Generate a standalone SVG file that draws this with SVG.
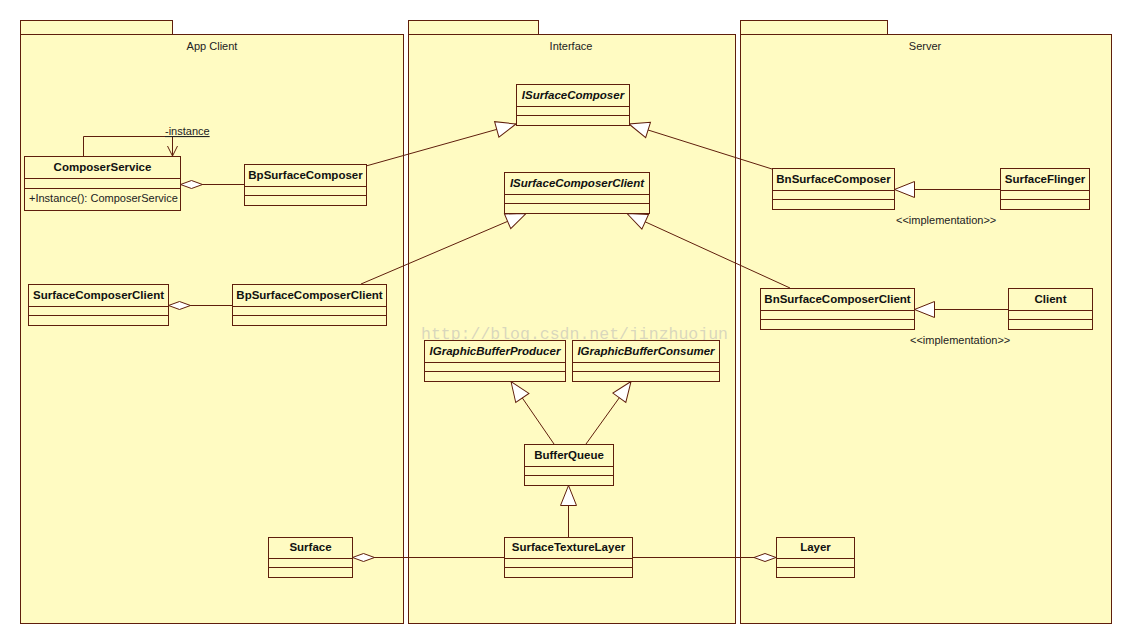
<svg xmlns="http://www.w3.org/2000/svg" width="1132" height="644" viewBox="0 0 1132 644">
<style>
.pkg{fill:#fffbc2;stroke:#5f1e0c;stroke-width:1}
.cls{fill:#fffbc2;stroke:#5f1e0c;stroke-width:1}
.sep{stroke:#5f1e0c;stroke-width:1}
.pl{font-family:"Liberation Sans",Arial,sans-serif;font-size:11px;fill:#222;text-anchor:middle}
.cn{font-family:"Liberation Sans",Arial,sans-serif;font-size:11.5px;font-weight:bold;fill:#111;text-anchor:middle}
.ci{font-family:"Liberation Sans",Arial,sans-serif;font-size:11.5px;font-weight:bold;font-style:italic;fill:#111;text-anchor:middle}
.tx{font-family:"Liberation Sans",Arial,sans-serif;font-size:11px;fill:#222}
.ln{fill:none;stroke:#5f1e0c;stroke-width:1}
.wm{font-family:"Liberation Mono","DejaVu Sans Mono",monospace;font-size:16.5px;fill:#b8b8b8;fill-opacity:0.55}
</style>
<defs>
<marker id="gen" markerUnits="userSpaceOnUse" markerWidth="24" markerHeight="20" refX="21" refY="9" orient="auto" viewBox="0 0 24 20">
<path d="M21,9 L1,1 L1,17 Z" fill="#ffffff" stroke="#5f1e0c" stroke-width="1"/>
</marker>
<marker id="dia" markerUnits="userSpaceOnUse" markerWidth="26" markerHeight="12" refX="1" refY="5" orient="auto" viewBox="0 0 26 12">
<path d="M1,5 L12,1 L23,5 L12,9 Z" fill="#ffffff" stroke="#5f1e0c" stroke-width="1"/>
</marker>
<marker id="open" markerUnits="userSpaceOnUse" markerWidth="14" markerHeight="14" refX="11" refY="6" orient="auto" viewBox="0 0 14 14">
<path d="M1,1 L11,6 L1,11" fill="none" stroke="#5f1e0c" stroke-width="1"/>
</marker>
</defs>
<rect width="1132" height="644" fill="#ffffff"/>

<g id="pkg-app-client">
<rect class="pkg" x="20.5" y="20.5" width="152" height="14"/>
<rect class="pkg" x="20.5" y="34.5" width="383" height="589"/>
<text class="pl" x="212" y="50">App Client</text>
</g>
<g id="pkg-interface">
<rect class="pkg" x="408.5" y="20.5" width="130" height="14"/>
<rect class="pkg" x="408.5" y="34.5" width="327" height="589"/>
<text class="pl" x="571" y="50">Interface</text>
</g>
<g id="pkg-server">
<rect class="pkg" x="740.5" y="20.5" width="147" height="14"/>
<rect class="pkg" x="740.5" y="34.5" width="371" height="589"/>
<text class="pl" x="925" y="50">Server</text>
</g>

<text class="wm" x="421" y="339">http://blog.csdn.net/jinzhuojun</text>

<g id="connectors">
<path class="ln" d="M83.5,156 V136.5 H172.5 V156" marker-end="url(#open)"/>
<text class="tx" x="165" y="135" text-decoration="underline">-instance</text>
<path class="ln" d="M180.5,184.5 H244" marker-start="url(#dia)"/>
<path class="ln" d="M366,166 L516,124" marker-end="url(#gen)"/>
<path class="ln" d="M772,169 L629,124" marker-end="url(#gen)"/>
<path class="ln" d="M1000,189.5 H894.5" marker-end="url(#gen)"/>
<path class="ln" d="M168.5,305.5 H232" marker-start="url(#dia)"/>
<path class="ln" d="M361,284 L526,213.5" marker-end="url(#gen)"/>
<path class="ln" d="M790,288 L627,213.5" marker-end="url(#gen)"/>
<path class="ln" d="M1008,309.5 H914.5" marker-end="url(#gen)"/>
<path class="ln" d="M554,444 L511,381.5" marker-end="url(#gen)"/>
<path class="ln" d="M586,444 L631,381.5" marker-end="url(#gen)"/>
<path class="ln" d="M568.5,537 V485.5" marker-end="url(#gen)"/>
<path class="ln" d="M352.5,557.5 H504" marker-start="url(#dia)"/>
<path class="ln" d="M776,557.5 H632.5" marker-start="url(#dia)"/>
</g>

<g id="ComposerService">
<rect class="cls" x="24.5" y="156.5" width="156" height="54"/>
<path class="sep" d="M24.5,178.5 H180.5 M24.5,188.5 H180.5"/>
<text class="cn" x="102.5" y="171">ComposerService</text>
<text class="tx" x="29" y="202">+Instance(): ComposerService</text>
</g>
<g id="BpSurfaceComposer">
<rect class="cls" x="244.5" y="164.5" width="122" height="41"/>
<path class="sep" d="M244.5,186.5 H366.5 M244.5,195.5 H366.5"/>
<text class="cn" x="305.5" y="179">BpSurfaceComposer</text>
</g>
<g id="SurfaceComposerClient">
<rect class="cls" x="28.5" y="284.5" width="140" height="41"/>
<path class="sep" d="M28.5,306.5 H168.5 M28.5,315.5 H168.5"/>
<text class="cn" x="98.5" y="299">SurfaceComposerClient</text>
</g>
<g id="BpSurfaceComposerClient">
<rect class="cls" x="232.5" y="284.5" width="154" height="41"/>
<path class="sep" d="M232.5,306.5 H386.5 M232.5,315.5 H386.5"/>
<text class="cn" x="309.5" y="299">BpSurfaceComposerClient</text>
</g>
<g id="Surface">
<rect class="cls" x="268.5" y="537.5" width="84" height="40"/>
<path class="sep" d="M268.5,558.5 H352.5 M268.5,567.5 H352.5"/>
<text class="cn" x="310.5" y="551">Surface</text>
</g>
<g id="ISurfaceComposer">
<rect class="cls" x="516.5" y="84.5" width="113" height="41"/>
<path class="sep" d="M516.5,106.5 H629.5 M516.5,115.5 H629.5"/>
<text class="ci" x="573" y="99">ISurfaceComposer</text>
</g>
<g id="ISurfaceComposerClient">
<rect class="cls" x="504.5" y="172.5" width="145" height="41"/>
<path class="sep" d="M504.5,194.5 H649.5 M504.5,203.5 H649.5"/>
<text class="ci" x="577" y="187">ISurfaceComposerClient</text>
</g>
<g id="IGraphicBufferProducer">
<rect class="cls" x="424.5" y="340.5" width="141" height="41"/>
<path class="sep" d="M424.5,362.5 H565.5 M424.5,371.5 H565.5"/>
<text class="ci" x="495" y="355">IGraphicBufferProducer</text>
</g>
<g id="IGraphicBufferConsumer">
<rect class="cls" x="572.5" y="340.5" width="147" height="41"/>
<path class="sep" d="M572.5,362.5 H719.5 M572.5,371.5 H719.5"/>
<text class="ci" x="646" y="355">IGraphicBufferConsumer</text>
</g>
<g id="BufferQueue">
<rect class="cls" x="524.5" y="444.5" width="89" height="41"/>
<path class="sep" d="M524.5,466.5 H613.5 M524.5,475.5 H613.5"/>
<text class="cn" x="569" y="459">BufferQueue</text>
</g>
<g id="SurfaceTextureLayer">
<rect class="cls" x="504.5" y="537.5" width="128" height="40"/>
<path class="sep" d="M504.5,558.5 H632.5 M504.5,567.5 H632.5"/>
<text class="cn" x="568.5" y="551">SurfaceTextureLayer</text>
</g>
<g id="BnSurfaceComposer">
<rect class="cls" x="772.5" y="168.5" width="122" height="41"/>
<path class="sep" d="M772.5,190.5 H894.5 M772.5,199.5 H894.5"/>
<text class="cn" x="833.5" y="183">BnSurfaceComposer</text>
</g>
<g id="SurfaceFlinger">
<rect class="cls" x="1000.5" y="168.5" width="89" height="41"/>
<path class="sep" d="M1000.5,190.5 H1089.5 M1000.5,199.5 H1089.5"/>
<text class="cn" x="1045" y="183">SurfaceFlinger</text>
</g>
<text class="tx" x="896" y="224">&lt;&lt;implementation&gt;&gt;</text>
<g id="BnSurfaceComposerClient">
<rect class="cls" x="760.5" y="288.5" width="154" height="41"/>
<path class="sep" d="M760.5,310.5 H914.5 M760.5,319.5 H914.5"/>
<text class="cn" x="837.5" y="303">BnSurfaceComposerClient</text>
</g>
<g id="Client">
<rect class="cls" x="1008.5" y="288.5" width="84" height="41"/>
<path class="sep" d="M1008.5,310.5 H1092.5 M1008.5,319.5 H1092.5"/>
<text class="cn" x="1050.5" y="303">Client</text>
</g>
<text class="tx" x="910" y="344">&lt;&lt;implementation&gt;&gt;</text>
<g id="Layer">
<rect class="cls" x="776.5" y="537.5" width="78" height="40"/>
<path class="sep" d="M776.5,558.5 H854.5 M776.5,567.5 H854.5"/>
<text class="cn" x="815.5" y="551">Layer</text>
</g>
</svg>
